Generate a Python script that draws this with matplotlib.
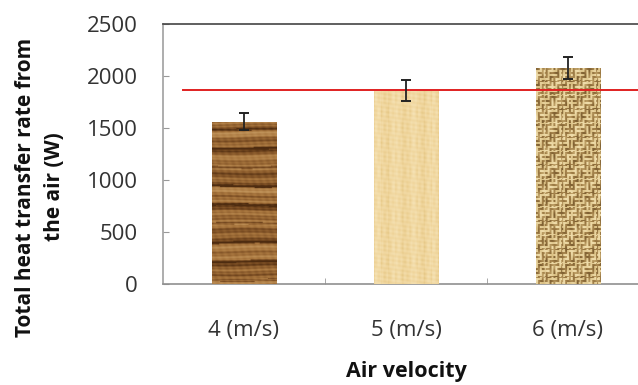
import numpy as np
import matplotlib
matplotlib.use("Agg")
import matplotlib.pyplot as plt
from matplotlib.colors import LinearSegmentedColormap

categories = ["4 (m/s)", "5 (m/s)", "6 (m/s)"]
values = [1560, 1860, 2075]
errors = [80, 100, 105]
reference_line = 1865
yticks = [0, 500, 1000, 1500, 2000, 2500]

plt.rcParams['font.family'] = ['Open Sans', 'DejaVu Sans']

fig = plt.figure(figsize=(6.38, 3.85), dpi=100)
ax = fig.add_axes([163/638, 101/385, 486/638, 260/385])

x = np.arange(len(categories))
bars = ax.bar(x, values, width=0.40, color=["#8a5a2c", "#f0d8a0", "#c4a264"], zorder=2)
ax.errorbar(x, values, yerr=errors, fmt='none', ecolor='#222222', elinewidth=1.3,
            capsize=3.6, capthick=1.4, zorder=6)

# textures (deterministic procedural patterns)
def wood(h=165, w=64):
    yy, xx = np.mgrid[0:h, 0:w].astype(float)
    yw = yy + 0.6*np.sin(xx*0.06 + yy*0.05)
    v = (0.55 + 0.2*np.sin(yw*0.55) + 0.16*np.sin(yw*0.21 + 1.1)
         + 0.12*np.sin(yw*1.9 + 0.7) + 0.05*np.sin(xx*0.9 + yy*0.3))
    v = np.where(np.sin(yw*0.33 + 0.4) > 0.92, v - 0.45, v)
    cmap = LinearSegmentedColormap.from_list("w", ["#4e2c10", "#7d4f24", "#a8763e", "#c0935a"])
    return cmap(np.clip(v, 0, 1))

def papyrus(h=195, w=64):
    yy, xx = np.mgrid[0:h, 0:w].astype(float)
    v = (0.6 + 0.12*np.sin(xx*1.1) * np.sin(yy*0.21) + 0.08*np.sin(yy*1.4 + xx*0.2)
         + 0.08*np.sin(xx*0.35 + 0.5))
    v = np.where((xx % 7) < 1, v - 0.12, v)
    cmap = LinearSegmentedColormap.from_list("p", ["#d9b86e", "#efd49a", "#f8e8c0"])
    return cmap(np.clip(v, 0, 1))

def burlap(h=216, w=67):
    yy, xx = np.mgrid[0:h, 0:w].astype(float)
    cx = (xx % 4) < 2
    cy = (yy % 4) < 2
    blk = ((xx // 4) * 3 + (yy // 4) * 5 + (xx // 9) + (yy // 7)) % 2 == 0
    weave = np.where(blk, cx, cy)
    v = 0.35 + 0.5*weave + 0.1*np.sin(xx*0.7 + yy*0.43) + 0.08*np.sin(yy*0.31 - xx*0.2)
    cmap = LinearSegmentedColormap.from_list("b", ["#5e4420", "#9c7a44", "#d8bd80", "#efdcaa"])
    return cmap(np.clip(v, 0, 1))

texs = [wood(), papyrus(), burlap()]
for bar, tex in zip(bars, texs):
    bx, by = bar.get_x(), bar.get_y()
    bw, bh = bar.get_width(), bar.get_height()
    im = ax.imshow(tex, extent=[bx, bx + bw, by, by + bh], aspect='auto',
                   origin='lower', zorder=3, interpolation='bilinear')
    im.set_clip_path(bar)

ax.axhline(reference_line, xmin=(183-163)/486, xmax=1, color='#e02020', lw=1.4, zorder=5)

ax.set_xlim(-0.5, len(categories) - 0.5)
ax.set_ylim(0, 2500)
ax.set_yticks(yticks)
ax.set_xticks(x)
ax.set_xticklabels(categories)
ax.set_xticks([0.5, 1.5], minor=True)
ax.tick_params(axis='x', which='major', length=0, pad=26, labelsize=16, labelcolor='#333333')
ax.tick_params(axis='x', which='minor', length=4, direction='in', color='#999999')
ax.tick_params(axis='y', length=4, direction='in', color='#999999', labelsize=16,
               labelcolor='#333333', pad=18)

ax.spines['right'].set_visible(False)
ax.spines['top'].set_color('#444444')
ax.spines['top'].set_linewidth(1.2)
ax.spines['left'].set_color('#a0a0a0')
ax.spines['left'].set_linewidth(1.2)
ax.spines['bottom'].set_color('#909090')
ax.spines['bottom'].set_linewidth(1.2)

fig.text(40/638, 1 - 187/385, "Total heat transfer rate from\nthe air (W)", rotation=90,
         ha='center', va='center', fontsize=15, fontweight='bold', color='#111111',
         linespacing=1.45)
fig.text(406/638, 1 - 371/385, "Air velocity", ha='center', va='center', fontsize=15.5,
         fontweight='bold', color='#111111')

fig.savefig("out.png", dpi=100)
